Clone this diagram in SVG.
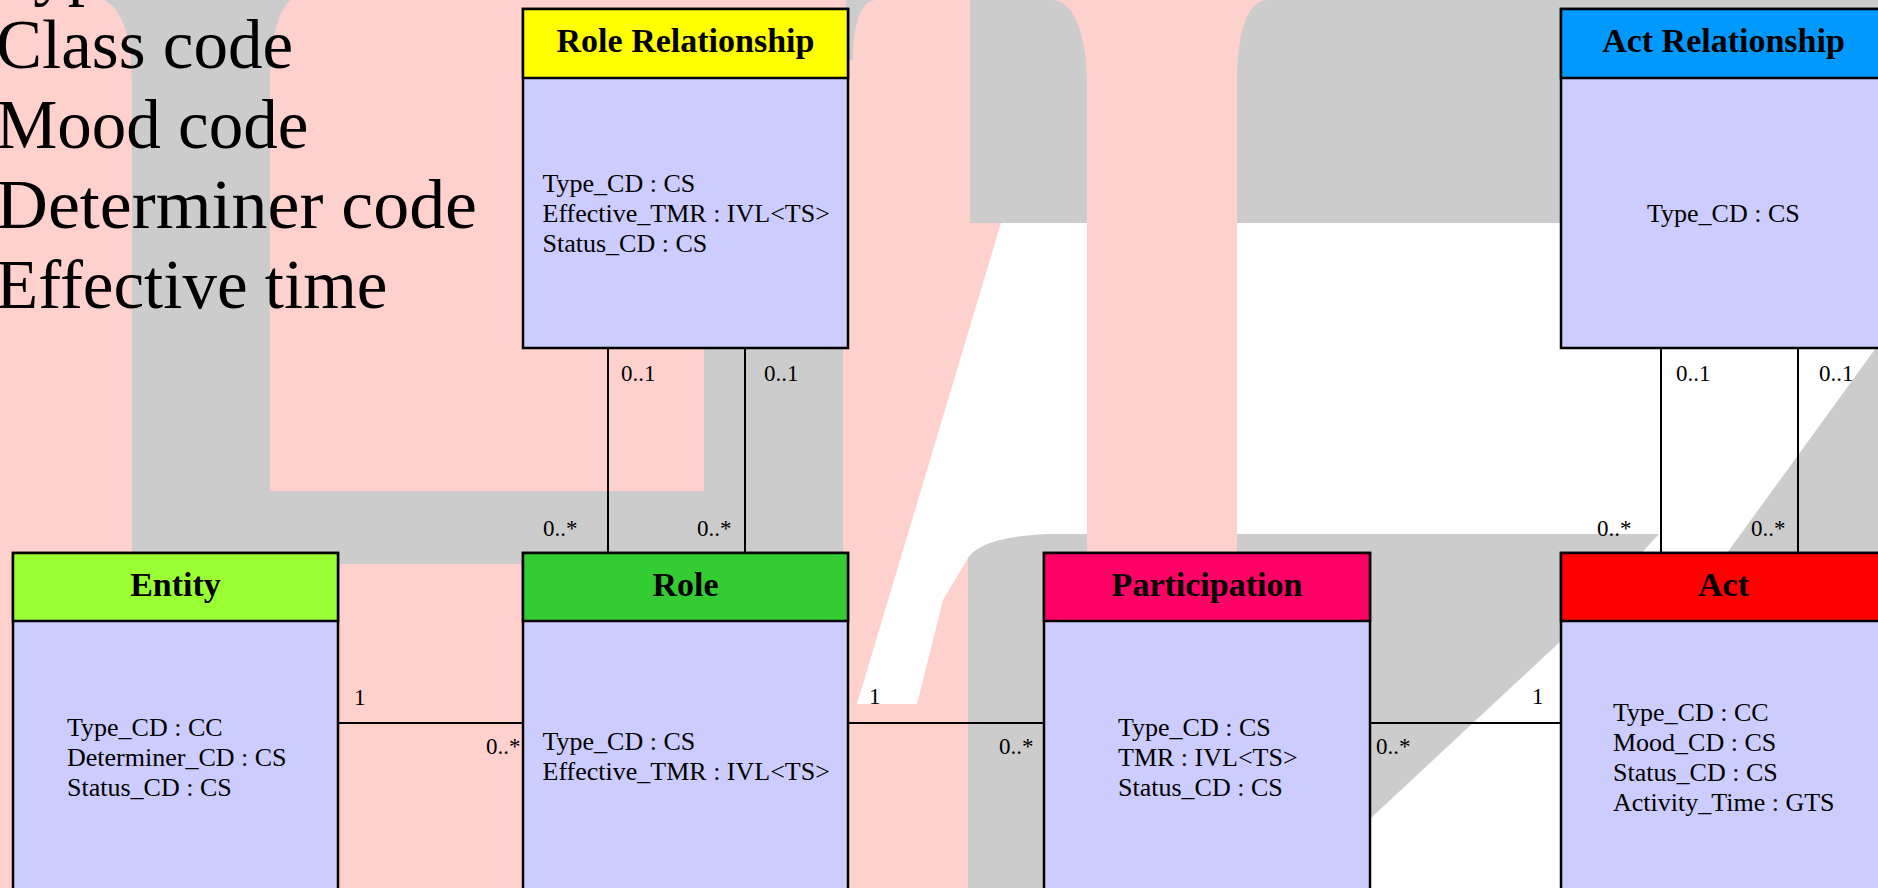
<svg xmlns="http://www.w3.org/2000/svg" width="1878" height="888" viewBox="0 0 1878 888">
<style>
  .pink{fill:#FFD1CD}
  .gray{fill:#CCCCCC}
  .white{fill:#FFFFFF}
  .box rect{stroke:#000;stroke-width:2.5}
  .body{fill:#CCCCFF}
  .title{font-family:"Liberation Serif","Times New Roman",serif;font-weight:bold;font-size:34px;text-anchor:middle;fill:#000}
  .attr{font-family:"Liberation Serif","Times New Roman",serif;font-size:26px;fill:#000}
  .lbl{font-family:"Liberation Serif","Times New Roman",serif;font-size:23px;fill:#000}
  .big{font-family:"Liberation Serif","Times New Roman",serif;font-size:69px;fill:#000}
  .conn line{stroke:#000;stroke-width:2}
</style>

<g id="background">
  <rect x="0" y="0" width="1878" height="888" class="pink"/>
  <rect x="970" y="0" width="908" height="223" class="gray"/>
  <path class="white" d="M1001,223 L1089,223 L1089,534 L1050,534 C1002,536 978,544 968,558 L943,600 L917,704 L857,704 L942,420 Z"/>
  <rect x="1237" y="223" width="641" height="665" class="white"/>
  <path class="gray" d="M968,888 L968,558 C978,544 1002,536 1050,534 L1659,534 L1561,641 L1372,817 L1296,888 Z"/>
  <path class="gray" d="M1878,345 L1878,553 L1727,553 Z"/>
  <path class="pink" d="M1053,0 C1075,0 1087,40 1087,83 L1087,553 L1237,553 L1237,83 C1237,40 1245,0 1267,0 Z"/>
  <path class="gray" d="M104,0 C125,10 132,45 132,83 L132,564 L843,564 L843,300 L704,300 L704,491 L270,491 L270,83 C270,45 277,10 291,0 Z"/>
  <path class="gray" d="M846,0 L877,0 C862,0 853,20 853,60 L846,60 Z"/>
</g>

<g id="legend">
  <text class="big" x="-4" y="-8">Type code</text>
  <text class="big" x="-4" y="68">Class code</text>
  <text class="big" x="-4" y="148">Mood code</text>
  <text class="big" x="-4" y="228" textLength="481" lengthAdjust="spacingAndGlyphs">Determiner code</text>
  <text class="big" x="-4" y="308">Effective time</text>
</g>

<g id="connectors" class="conn">
  <line x1="608" y1="348" x2="608" y2="553"/>
  <line x1="745" y1="348" x2="745" y2="553"/>
  <line x1="1661" y1="348" x2="1661" y2="553"/>
  <line x1="1798" y1="348" x2="1798" y2="553"/>
  <line x1="338" y1="723" x2="523" y2="723"/>
  <line x1="848" y1="723" x2="1044" y2="723"/>
  <line x1="1370" y1="723" x2="1561" y2="723"/>
  <text class="lbl" x="621" y="381">0..1</text>
  <text class="lbl" x="764" y="381">0..1</text>
  <text class="lbl" x="1676" y="381">0..1</text>
  <text class="lbl" x="1819" y="381">0..1</text>
  <text class="lbl" x="543" y="536">0..*</text>
  <text class="lbl" x="697" y="536">0..*</text>
  <text class="lbl" x="1597" y="536">0..*</text>
  <text class="lbl" x="1751" y="536">0..*</text>
  <text class="lbl" x="354" y="705">1</text>
  <text class="lbl" x="486" y="754">0..*</text>
  <text class="lbl" x="869" y="704">1</text>
  <text class="lbl" x="999" y="754">0..*</text>
  <text class="lbl" x="1376" y="754">0..*</text>
  <text class="lbl" x="1532" y="704">1</text>
</g>

<g id="role-relationship" class="box">
  <rect x="523" y="9" width="325" height="339" class="body"/>
  <rect x="523" y="9" width="325" height="69" fill="#FFFF00"/>
  <text class="title" x="685.5" y="52">Role Relationship</text>
  <text class="attr" x="542.5" y="192">Type_CD : CS</text>
  <text class="attr" x="542.5" y="222">Effective_TMR : IVL&lt;TS&gt;</text>
  <text class="attr" x="542.5" y="252">Status_CD : CS</text>
</g>

<g id="act-relationship" class="box">
  <rect x="1561" y="9" width="325" height="339" class="body"/>
  <rect x="1561" y="9" width="325" height="69" fill="#0099FF"/>
  <text class="title" x="1723.5" y="52">Act Relationship</text>
  <text class="attr" x="1647" y="222">Type_CD : CS</text>
</g>

<g id="entity" class="box">
  <rect x="13" y="553" width="325" height="345" class="body"/>
  <rect x="13" y="553" width="325" height="68" fill="#99FF33"/>
  <text class="title" x="175.5" y="596">Entity</text>
  <text class="attr" x="67" y="736">Type_CD : CC</text>
  <text class="attr" x="67" y="766">Determiner_CD : CS</text>
  <text class="attr" x="67" y="796">Status_CD : CS</text>
</g>

<g id="role" class="box">
  <rect x="523" y="553" width="325" height="345" class="body"/>
  <rect x="523" y="553" width="325" height="68" fill="#33CC33"/>
  <text class="title" x="685.5" y="596">Role</text>
  <text class="attr" x="542.5" y="750">Type_CD : CS</text>
  <text class="attr" x="542.5" y="780">Effective_TMR : IVL&lt;TS&gt;</text>
</g>

<g id="participation" class="box">
  <rect x="1044" y="553" width="326" height="345" class="body"/>
  <rect x="1044" y="553" width="326" height="68" fill="#FF0066"/>
  <text class="title" x="1207" y="596">Participation</text>
  <text class="attr" x="1118" y="736">Type_CD : CS</text>
  <text class="attr" x="1118" y="766">TMR : IVL&lt;TS&gt;</text>
  <text class="attr" x="1118" y="796">Status_CD : CS</text>
</g>

<g id="act" class="box">
  <rect x="1561" y="553" width="325" height="345" class="body"/>
  <rect x="1561" y="553" width="325" height="68" fill="#FF0000"/>
  <text class="title" x="1723.5" y="596">Act</text>
  <text class="attr" x="1613" y="721">Type_CD : CC</text>
  <text class="attr" x="1613" y="751">Mood_CD : CS</text>
  <text class="attr" x="1613" y="781">Status_CD : CS</text>
  <text class="attr" x="1613" y="811">Activity_Time : GTS</text>
</g>
</svg>
